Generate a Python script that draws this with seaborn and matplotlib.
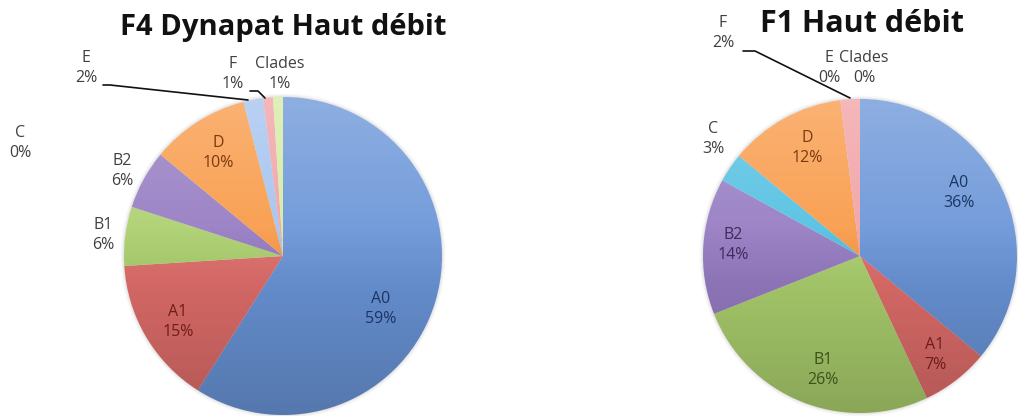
import numpy as np
import matplotlib
matplotlib.use("Agg")
import matplotlib.pyplot as plt
from matplotlib.patches import Circle
import seaborn as sns

# ---- data -------------------------------------------------------------
clades = ["A0", "A1", "B1", "B2", "C", "D", "E", "F", "Clades"]
f4_pct = [59, 15, 6, 6, 0, 10, 2, 1, 1]
f1_pct = [36, 7, 26, 14, 3, 12, 0, 2, 0]
titles = ["F4 Dynapat Haut débit", "F1 Haut débit"]

# ---- style ------------------------------------------------------------
sns.set_theme(style="white")
plt.rcParams["font.family"] = ["Open Sans", "DejaVu Sans"]

palette = sns.color_palette(["#6a95d8", "#e06e6b", "#acd06e", "#957bc2",
                             "#52c0e2", "#f99a48", "#a3c3ef", "#f1a1a5",
                             "#d5eba2"])
inside_colors = {"A0": "#1c3563", "A1": "#6e1d1b", "B1": "#3c521a",
                 "B2": "#3e2b5c", "C": "#1f4f5e", "D": "#7a3a10"}
outside_color = "#404040"

W, H = 1018, 416
fig = plt.figure(figsize=(W / 100, H / 100), dpi=100)
ax = fig.add_axes([0, 0, 1, 1])

# pie placement (pixel units, y measured from top)
pies = [
    dict(values=f4_pct, cx=283, cy=256, r=159, title_x=283, title_y=27, title_size=21),
    dict(values=f1_pct, cx=860, cy=256, r=157, title_x=862, title_y=24, title_size=22),
]

# label anchor points per pie (pixel units, y from top), 'inside' flag
label_pos = [
    {"A0": (381, 309, True), "A1": (178, 322, True), "B1": (103, 235, False),
     "B2": (122, 171, False), "C": (20, 143, False), "D": (218, 153, True),
     "E": (86, 68, False), "F": (233, 74, False), "Clades": (280, 74, False)},
    {"A0": (959, 193, True), "A1": (935, 355, True), "B1": (823, 370, True),
     "B2": (733, 245, True), "C": (713, 139, False), "D": (807, 148, True),
     "E": (829, 68, False), "F": (723, 33, False), "Clades": (864, 68, False)},
]

# shading overlays: whitened top, darkened bottom
n = 256
t = np.linspace(0, 1, n)[:, None] * np.ones((1, 2))
light = np.zeros((n, 2, 4))
light[..., :3] = 1.0
light[..., 3] = 0.24 * np.clip(1 - t / 0.6, 0, 1)
dark = np.zeros((n, 2, 4))
dark[..., 3] = 0.20 * np.clip((t - 0.4) / 0.6, 0, 1)

for i, p in enumerate(pies):
    cx, cy, r = p["cx"], H - p["cy"], p["r"]
    # soft halo around the disc
    for k, a in zip(range(1, 5), [0.10, 0.07, 0.04, 0.02]):
        ax.add_patch(Circle((cx, cy), r + k, color="#8a8a8a", alpha=a,
                            lw=0, zorder=0))
    ax.pie(p["values"], colors=palette, startangle=90, counterclock=False,
           center=(cx, cy), radius=r, wedgeprops=dict(linewidth=0))
    for layer in (light, dark):
        im = ax.imshow(layer, extent=[cx - r, cx + r, cy - r, cy + r],
                       aspect="auto", interpolation="bilinear", zorder=3)
        im.set_clip_path(Circle((cx, cy), r, transform=ax.transData))

    ax.text(p["title_x"], H - p["title_y"], titles[i], ha="center", va="center",
            fontsize=p["title_size"], fontweight="bold", color="#111111")

    for name, val in zip(clades, p["values"]):
        lx, ly, inside = label_pos[i][name]
        col = inside_colors[name] if inside else outside_color
        ax.text(lx, H - ly, f"{name}\n{val}%", ha="center", va="center",
                fontsize=11.5, color=col, linespacing=1.35, zorder=5)

# leader lines for the thin slices
ax.plot([103, 110, 248], [H - 85, H - 85, H - 100], color="#111111", lw=1.2, zorder=4)
ax.plot([250, 258, 265], [H - 91, H - 91, H - 98], color="#111111", lw=1.2, zorder=4)
ax.plot([743, 755, 850], [H - 51, H - 51, H - 98], color="#111111", lw=1.2, zorder=4)

ax.set_xlim(0, W)
ax.set_ylim(0, H)
ax.set_aspect("auto")
ax.axis("off")

fig.savefig("out.png", dpi=100, facecolor="white")
